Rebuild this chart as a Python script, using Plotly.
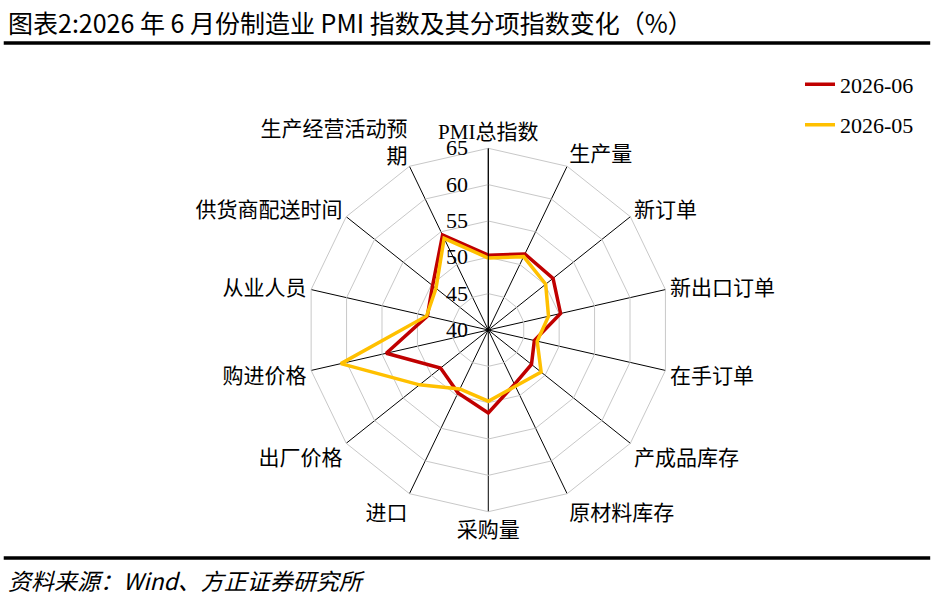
import plotly.graph_objects as go

categories = ['PMI总指数', '生产量', '新订单', '新出口订单', '在手订单', '产成品库存', '原材料库存',
              '采购量', '进口', '出厂价格', '购进价格', '从业人员', '供货商配送时间', '生产经营活动预期']
tick_labels = ['PMI总指数', '生产量', '新订单', '新出口订单', '在手订单', '产成品库存', '原材料库存',
               '采购量', '进口', '出厂价格', '购进价格', '从业人员', '供货商配送时间', '生产经营活动预<br>期']
jun_2026 = [50.3, 51.6, 51.4, 50.2, 46.5, 47.6, 48.3, 51.4, 49.6, 48.4, 54.4, 48.6, 49.8, 54.5]
may_2026 = [49.9, 51.2, 50.1, 48.5, 46.9, 49.3, 48.6, 49.8, 49.0, 52.1, 60.8, 48.7, 49.2, 54.0]
radial_ticks = [40, 45, 50, 55, 60, 65]

serif = 'Liberation Serif, Noto Sans CJK SC'

fig = go.Figure()
for name, vals, color in [('2026-06', jun_2026, '#C00000'), ('2026-05', may_2026, '#FFC000')]:
    fig.add_trace(go.Scatterpolar(r=vals + vals[:1], theta=categories + categories[:1],
                                  mode='lines', name=name, legendgroup=name,
                                  line=dict(color=color, width=3.5)))

fig.update_layout(
    width=933, height=604,
    margin=dict(l=0, r=0, t=0, b=0),
    paper_bgcolor='white',
    font=dict(family=serif, size=18, color='black'),
    showlegend=True,
    legend=dict(x=0.985, xanchor='right', y=0.895, yanchor='top',
                font=dict(family=serif, size=22), tracegroupgap=9,
                bgcolor='rgba(0,0,0,0)'),
    polar=dict(
        domain=dict(x=[0.3286, 0.7181], y=[0.1528, 0.7545]),
        bgcolor='white',
        gridshape='linear',
        angularaxis=dict(type='category', rotation=90, direction='clockwise',
                         tickmode='array', tickvals=categories, ticktext=tick_labels,
                         ticks='', showline=True, linecolor='#c8c8c8', linewidth=1,
                         gridcolor='#000000', gridwidth=1,
                         tickfont=dict(size=21)),
        radialaxis=dict(range=[40, 65], tickvals=radial_ticks, angle=90, tickangle=90,
                        side='counterclockwise', showline=True, linecolor='#000000',
                        linewidth=1, ticks='outside', ticklen=12, tickcolor='rgba(0,0,0,0)',
                        gridcolor='#c8c8c8', gridwidth=1,
                        tickfont=dict(size=22)),
    ),
)

fig.add_annotation(text='图表2:2026 年 6 月份制造业 PMI 指数及其分项指数变化（%）',
                   xref='paper', yref='paper', x=0.006, y=1 - 22 / 604,
                   xanchor='left', yanchor='middle', showarrow=False,
                   font=dict(family='Noto Sans CJK SC', size=25, color='black'))
fig.add_annotation(text='<i>资料来源：Wind、方正证券研究所</i>',
                   xref='paper', yref='paper', x=0.006, y=1 - 580 / 604,
                   xanchor='left', yanchor='middle', showarrow=False,
                   font=dict(family='Noto Sans CJK SC', size=23, color='black'))
fig.add_shape(type='line', xref='paper', yref='paper', x0=0.004, x1=0.997,
              y0=1 - 43 / 604, y1=1 - 43 / 604, line=dict(color='black', width=3.5))
fig.add_shape(type='line', xref='paper', yref='paper', x0=0.004, x1=0.997,
              y0=1 - 558 / 604, y1=1 - 558 / 604, line=dict(color='black', width=3.5))

fig.write_html('out.html', config={'displayModeBar': False},
               post_script="document.body.style.margin='0';")
